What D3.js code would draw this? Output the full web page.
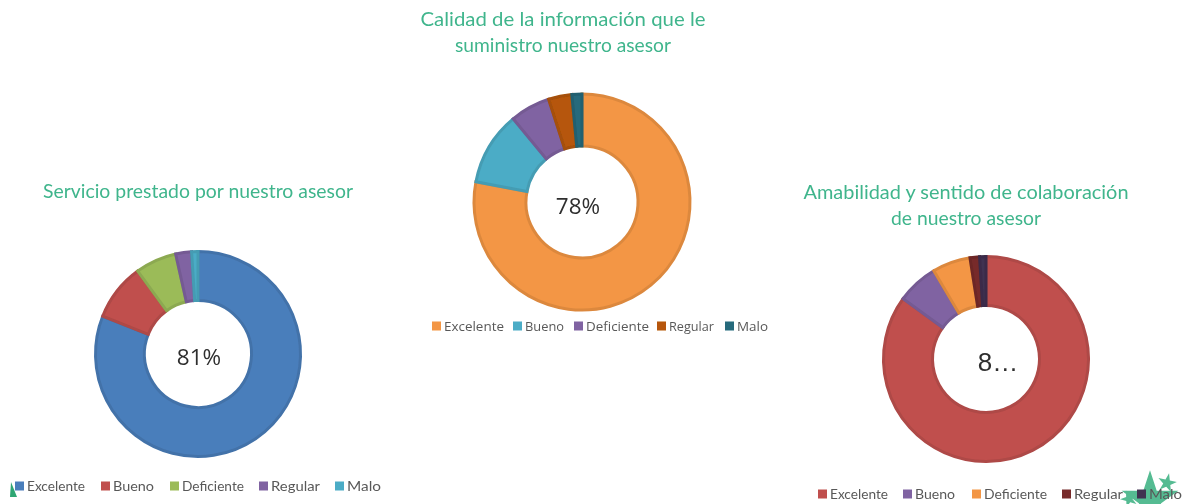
<!DOCTYPE html>
<html lang="es">
<head>
<meta charset="utf-8">
<script src="https://cdnjs.cloudflare.com/ajax/libs/d3/7.8.5/d3.min.js"></script>
<style>
html,body{margin:0;padding:0;background:#fff;}
svg{display:block;}
</style>
</head>
<body>
<svg id="c" width="1187" height="504"></svg>
<script>
const categories = ["Excelente","Bueno","Deficiente","Regular","Malo"];
const servicioValues = [81, 9, 6.5, 2.5, 1];
const calidadValues = [78, 11, 6, 3.5, 1.5];
const amabilidadValues = [85, 6.5, 6, 1.5, 1];
const servicioColors = ["#4a7ebb","#c0504d","#9bbb59","#8064a2","#4bacc6"];
const calidadColors = ["#f39645","#4bacc6","#8064a2","#b65708","#276a7c"];
const amabilidadColors = ["#c0504d","#8064a2","#f39645","#772c2a","#403151"];

const charts = [
  {title:["Servicio prestado por nuestro asesor"], titleX:198, titleY:[198], titleW:[310],
   values:servicioValues, colors:servicioColors, cx:198, cy:354, r:104, r0:52,
   center:"81%", lx:199, ly:365, lf:"Open Sans", ls:22.5,
   legY:486, swatch:[15,101,170,259,335], textW:[58,41,62,49,34], legFont:"Lato"},
  {title:["Calidad de la información que le","suministro nuestro asesor"], titleX:563, titleY:[26,52], titleW:[285,216],
   values:calidadValues, colors:calidadColors, cx:582, cy:202, r:109.5, r0:54.5,
   center:"78%", lx:578, ly:214, lf:"Open Sans", ls:22.5,
   legY:326, swatch:[432,513,574,657,725], textW:[60,39,63,45,31], legFont:"Open Sans"},
  {title:["Amabilidad y sentido de colaboración","de nuestro asesor"], titleX:966, titleY:[199,225], titleW:[325,150],
   values:amabilidadValues, colors:amabilidadColors, cx:986, cy:359, r:104, r0:52,
   center:"8…", lx:998, ly:371, lf:"Liberation Sans", ls:26,
   legY:494, swatch:[818,903,972,1062,1137], textW:[58,40,63,49,33], legFont:"Lato"}
];

const svg = d3.select("#c");
svg.append("defs").append("filter").attr("id","soft")
  .attr("filterUnits","userSpaceOnUse").attr("x",0).attr("y",0).attr("width",1187).attr("height",504)
  .append("feGaussianBlur").attr("stdDeviation",0.7);

const root = svg.append("g").attr("filter","url(#soft)");

// logo fragments of the source slide, lying behind the legends
const deco = root.append("g");
deco.append("path").attr("d","M10 497L17 497L11 482Z").attr("fill","#2fa673");
const starGen = d3.symbol().type(d3.symbolStar);
[[1150,500,1000,0],[1167,483,110,12],[1129,499,90,-20]].forEach(([x,y,s,a])=>{
  deco.append("path").attr("d",starGen.size(s)()).attr("fill","#55bb92")
    .attr("transform",`translate(${x},${y}) rotate(${a})`);
});

const pie = d3.pie().sort(null).startAngle(0).endAngle(2*Math.PI);
const sw = 3;

charts.forEach(ch => {
  const g = root.append("g");
  const color = d3.scaleOrdinal().domain(categories).range(ch.colors);
  const arc = d3.arc().innerRadius(ch.r0 + sw/2).outerRadius(ch.r - sw/2);
  g.append("g").attr("transform",`translate(${ch.cx},${ch.cy})`)
    .selectAll("path").data(pie(ch.values)).join("path")
      .attr("d",arc)
      .attr("fill",(d,i)=>color(categories[i]))
      .attr("stroke",(d,i)=>d3.color(color(categories[i])).darker(0.28))
      .attr("stroke-width",sw)
      .attr("stroke-linejoin","miter");

  g.append("text").attr("x",ch.lx).attr("y",ch.ly)
    .attr("text-anchor","middle").attr("font-family",ch.lf).attr("font-size",ch.ls)
    .attr("fill","#2f2f2f").text(ch.center);

  ch.title.forEach((t,i)=>{
    g.append("text").attr("x",ch.titleX).attr("y",ch.titleY[i])
      .attr("text-anchor","middle").attr("font-family","Lato").attr("font-size",19)
      .attr("textLength",ch.titleW[i]).attr("lengthAdjust","spacingAndGlyphs")
      .attr("fill","#3fb58c").text(t);
  });

  const leg = g.append("g");
  categories.forEach((c,i)=>{
    leg.append("rect").attr("x",ch.swatch[i]).attr("y",ch.legY-4.5)
      .attr("width",9).attr("height",9).attr("fill",color(c));
    leg.append("text").attr("x",ch.swatch[i]+12).attr("y",ch.legY+4.5)
      .attr("font-family",ch.legFont).attr("font-size",13.5)
      .attr("textLength",ch.textW[i]).attr("lengthAdjust","spacingAndGlyphs")
      .attr("fill","#595959").text(c);
  });
});
</script>
</body>
</html>
